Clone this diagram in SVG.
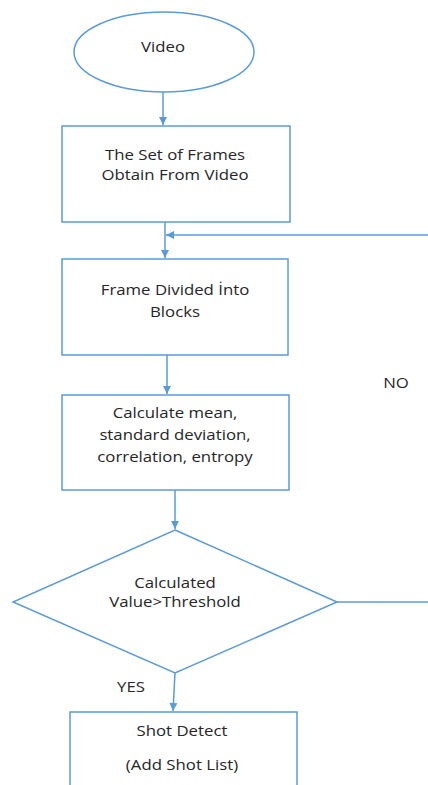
<svg xmlns="http://www.w3.org/2000/svg" width="428" height="785" viewBox="0 0 428 785">
<defs>
<style>
.s{fill:#fff;stroke:#5b9bd5;stroke-width:1.5}
.c{fill:none;stroke:#5b9bd5;stroke-width:1.5}
text{font-family:"Open Sans","Noto Sans",sans-serif;font-size:15px;fill:#262626;text-anchor:middle}
</style>
<marker id="a" markerWidth="10" markerHeight="10" refX="9" refY="5" orient="auto" markerUnits="userSpaceOnUse">
<path d="M1,1 L9,5 L1,9 Z" fill="#5b9bd5"/>
</marker>
</defs>
<rect width="428" height="785" fill="#fff"/>
<g id="connectors">
<line class="c" x1="163" y1="92" x2="163" y2="125" marker-end="url(#a)"/>
<line class="c" x1="165" y1="222" x2="165" y2="258" marker-end="url(#a)"/>
<line class="c" x1="428" y1="235" x2="166" y2="235" marker-end="url(#a)"/>
<line class="c" x1="167" y1="355" x2="167" y2="394" marker-end="url(#a)"/>
<line class="c" x1="175" y1="490" x2="175" y2="529" marker-end="url(#a)"/>
<line class="c" x1="337" y1="602" x2="428" y2="602"/>
<line class="c" x1="175" y1="673" x2="173" y2="711" marker-end="url(#a)"/>
<g transform="translate(396 0) scale(1.12 1)"><text x="0" y="388">NO</text></g>
<g transform="translate(131 0) scale(1.12 1)"><text x="0" y="692">YES</text></g>
</g>
<g id="video">
<ellipse class="s" cx="164" cy="52" rx="90" ry="40"/>
<g transform="translate(163 0) scale(1.12 1)"><text x="0" y="52">Video</text></g>
</g>
<g id="frames">
<rect class="s" x="62" y="126" width="228" height="96"/>
<g transform="translate(175 0) scale(1.12 1)">
<text x="0" y="160">The Set of Frames</text>
<text x="0" y="180">Obtain From Video</text>
</g>
</g>
<g id="blocks">
<rect class="s" x="62" y="259" width="226" height="96"/>
<g transform="translate(175 0) scale(1.12 1)">
<text x="0" y="295">Frame Divided İnto</text>
<text x="0" y="317">Blocks</text>
</g>
</g>
<g id="calc">
<rect class="s" x="62" y="395" width="227" height="95"/>
<g transform="translate(175 0) scale(1.12 1)">
<text x="0" y="418">Calculate mean,</text>
<text x="0" y="440">standard deviation,</text>
<text x="0" y="462">correlation, entropy</text>
</g>
</g>
<g id="decision">
<polygon class="s" points="175,530 337,602 175,673 13,602"/>
<g transform="translate(175 0) scale(1.12 1)">
<text x="0" y="588">Calculated</text>
<text x="0" y="607">Value&gt;Threshold</text>
</g>
</g>
<g id="shot">
<rect class="s" x="70" y="712" width="227" height="90"/>
<g transform="translate(182 0) scale(1.12 1)">
<text x="0" y="736">Shot Detect</text>
<text x="0" y="770">(Add Shot List)</text>
</g>
</g>
</svg>
